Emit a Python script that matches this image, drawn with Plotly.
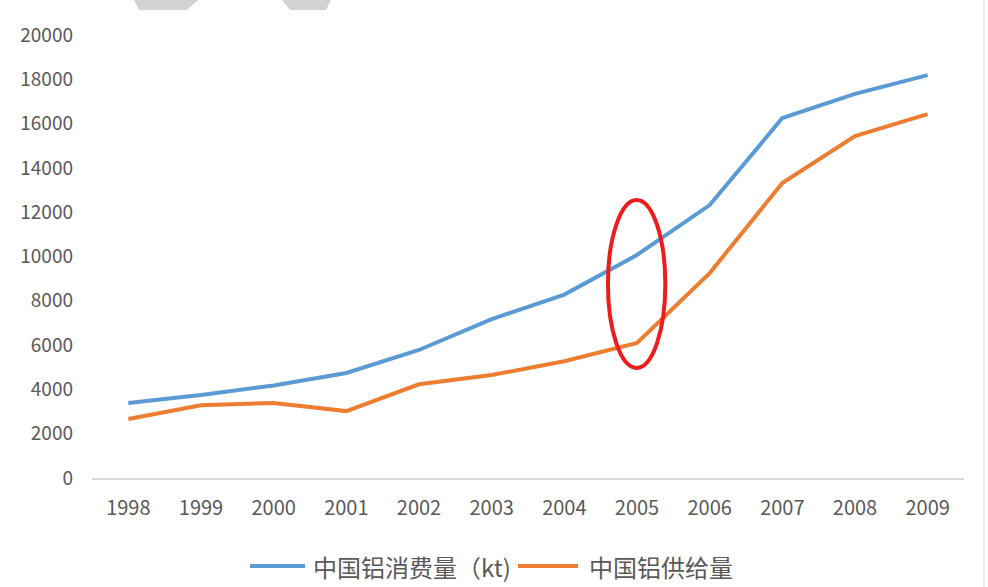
import plotly.graph_objects as go

# China aluminium consumption vs. supply, 1998-2009 (kt)
years = ["1998", "1999", "2000", "2001", "2002", "2003",
         "2004", "2005", "2006", "2007", "2008", "2009"]
consumption = [3390, 3750, 4180, 4740, 5780, 7170, 8280, 10070, 12320, 16250, 17340, 18190]
supply = [2660, 3280, 3390, 3020, 4230, 4650, 5270, 6100, 9250, 13320, 15440, 16430]

y_ticks = list(range(0, 20001, 2000))

BLUE = "#5B9BD5"
ORANGE = "#ED7D31"
TEXT = "#595959"
FONT = "Noto Sans CJK SC"

W, H = 988, 587
L, R, T, B = 92, 24, 35, 109
PW, PH = W - L - R, H - T - B


def px_x(p):
    return (p - L) / PW


def px_y(p):
    return (H - B - p) / PH


series = [
    ("中国铝消费量（kt)", consumption, BLUE),
    ("中国铝供给量", supply, ORANGE),
]

fig = go.Figure()
for name, vals, color in series:
    fig.add_trace(go.Scatter(
        x=years, y=vals, mode="lines", name=name,
        line=dict(color=color, width=4), showlegend=False,
    ))

# bottom legend with long line keys
legend_y = 566
for (name, _, color), (lx0, lx1, tx) in zip(series, [(250, 305, 311), (518, 578, 587)]):
    fig.add_shape(type="line", xref="paper", yref="paper",
                  x0=px_x(lx0), x1=px_x(lx1), y0=px_y(legend_y), y1=px_y(legend_y),
                  line=dict(color=color, width=4))
    fig.add_annotation(xref="paper", yref="paper", x=px_x(tx), y=px_y(legend_y),
                       xanchor="left", yanchor="middle", showarrow=False,
                       text=name, font=dict(size=24, color=TEXT, family=FONT))

# highlight ring around 2005
fig.add_shape(
    type="circle", xref="x", yref="y",
    x0=6.6, x1=7.39, y0=4970, y1=12550,
    line=dict(color="#EE1C1C", width=4), layer="above",
)

# grey header bars along the top edge
for (a, b, c, d) in [(134, 198, 187, 139), (282, 331, 326, 290)]:
    path = (f"M {px_x(a)},{px_y(0)} L {px_x(b)},{px_y(0)} "
            f"L {px_x(c)},{px_y(10)} L {px_x(d)},{px_y(10)} Z")
    fig.add_shape(type="path", xref="paper", yref="paper", path=path,
                  fillcolor="#D2D2D2", line=dict(width=0), layer="above")

# faint frame edge on the right
fig.add_shape(type="line", xref="paper", yref="paper",
              x0=px_x(984), x1=px_x(984), y0=px_y(0), y1=px_y(587),
              line=dict(color="#EDEDED", width=2))

fig.update_layout(
    width=W, height=H,
    margin=dict(l=L, r=R, t=T, b=B, autoexpand=False),
    paper_bgcolor="white", plot_bgcolor="white",
    font=dict(family=FONT, color=TEXT, size=19),
    showlegend=False,
    xaxis=dict(
        type="category", range=[-0.5, 11.5], showgrid=False, showline=True,
        linecolor="#D9D9D9", linewidth=1.5, ticks="", automargin=False,
        tickfont=dict(size=20, color=TEXT, family=FONT),
        ticklabelstandoff=11,
    ),
    yaxis=dict(
        range=[0, 20000], tickvals=y_ticks, tickformat="d", showgrid=False,
        showline=False, zeroline=False, ticks="", automargin=False,
        tickfont=dict(size=19, color=TEXT, family=FONT),
        ticklabelstandoff=18,
    ),
)

fig.write_html("out.html")
